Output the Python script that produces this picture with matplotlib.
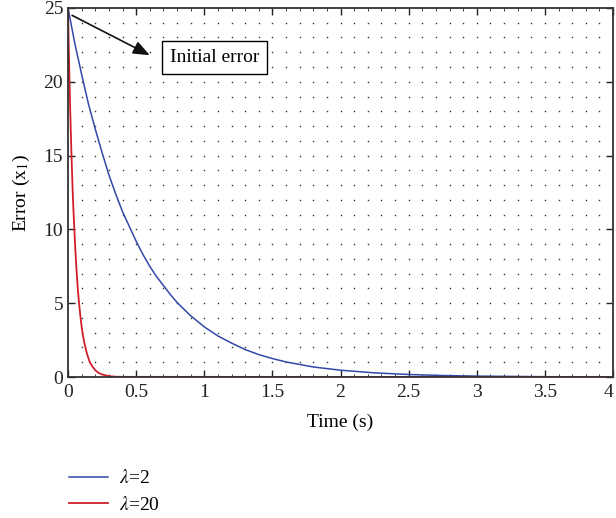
import numpy as np
import matplotlib
matplotlib.use('Agg')
import matplotlib.pyplot as plt

plt.rcParams['font.family'] = ['Liberation Serif', 'DejaVu Serif']
plt.rcParams['mathtext.fontset'] = 'stix'

# error trajectories x1(t) for the two gains
t_slow = [0, 0.05, 0.1, 0.15, 0.2, 0.25, 0.3, 0.35, 0.4, 0.45, 0.5, 0.55,
          0.6, 0.65, 0.7, 0.75, 0.8, 0.9, 1.0, 1.1, 1.2, 1.3, 1.4, 1.5,
          1.6, 1.8, 2.0, 2.25, 2.5, 2.75, 3.0, 3.5, 4.0]
x1_slow = [25, 22.6, 20.5, 18.5, 16.8, 15.2, 13.7, 12.4, 11.2, 10.2, 9.2,
           8.3, 7.5, 6.8, 6.2, 5.6, 5.05, 4.15, 3.4, 2.78, 2.3, 1.86, 1.52,
           1.25, 1.02, 0.68, 0.46, 0.28, 0.17, 0.10, 0.06, 0.02, 0.005]

t_fast = [0, 0.005, 0.01, 0.015, 0.02, 0.025, 0.03, 0.035, 0.04, 0.05, 0.06,
          0.07, 0.08, 0.09, 0.10, 0.11, 0.12, 0.14, 0.16, 0.18, 0.20, 0.225,
          0.25, 0.30, 0.35, 0.40, 4.0]
x1_fast = [25, 22.6, 20.5, 18.5, 16.8, 15.2, 13.8, 12.4, 11.3, 9.3, 7.6,
           6.2, 5.1, 4.2, 3.4, 2.8, 2.3, 1.55, 1.0, 0.7, 0.46, 0.28,
           0.17, 0.06, 0.02, 0.01, 0.0]

labels = [r'$\lambda$=2', r'$\lambda$=20']
colors = ['#3347a8', '#d21f2b']

x_ticks = [0, 0.5, 1, 1.5, 2, 2.5, 3, 3.5, 4]
y_ticks = [0, 5, 10, 15, 20, 25]

fig = plt.figure(figsize=(6.16, 5.18), dpi=100)
ax = fig.add_axes([0.1104, 0.2722, 0.8848, 0.7124])

# dotted minor grid: one dot per (0.1 s, 1 unit) intersection
gx, gy = np.meshgrid(np.arange(1, 40) / 10, np.arange(1, 25))
ax.plot(gx.ravel(), gy.ravel(), 's', ms=1.0, mew=0, color='#333333', zorder=0)

ax.plot(t_slow, x1_slow, color=colors[0], lw=1.1, label=labels[0])
ax.plot(t_fast, x1_fast, color=colors[1], lw=1.3, label=labels[1])

ax.set_xlim(0, 4)
ax.set_ylim(0, 25)
ax.set_xticks(x_ticks)
ax.set_xticklabels([f'{v:g}' for v in x_ticks])
ax.set_yticks(y_ticks)
ax.set_xticks(np.arange(0, 41) / 10, minor=True)
ax.tick_params(which='both', direction='in', top=True, right=True,
               labelsize=14, colors='#222222', labelcolor='#222222')
ax.tick_params(which='major', length=5, width=1)
ax.tick_params(which='minor', length=2.5, width=0.6)
ax.tick_params(axis='x', pad=5)
ax.get_xticklabels()[-1].set_horizontalalignment('right')
for s in ax.spines.values():
    s.set_color('#333333')
    s.set_linewidth(1.3)

ax.set_xlabel('Time (s)', fontsize=14, labelpad=9)
ax.set_ylabel('Error (x$_1$)', fontsize=14, labelpad=8)

ax.text(1.075, 21.65, 'Initial error', fontsize=14, ha='center', va='center',
        bbox=dict(boxstyle='square,pad=0.4', fc='white', ec='black', lw=1))
ax.annotate('', xy=(0.6, 21.8), xytext=(0.03, 24.5),
            arrowprops=dict(arrowstyle='-|>,head_length=1.0,head_width=0.4',
                            color='#111111', lw=1.2, shrinkA=0, shrinkB=0))

fig.legend(loc='upper left', bbox_to_anchor=(0.1, 0.109), frameon=False,
           fontsize=14, handlelength=2.0, handletextpad=0.55, labelspacing=0.45,
           borderaxespad=0)

fig.savefig('out.png', dpi=100)
